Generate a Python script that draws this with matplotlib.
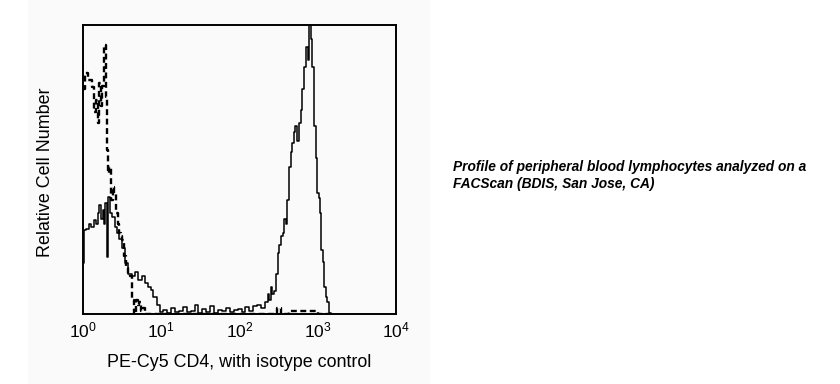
import matplotlib.pyplot as plt
from matplotlib.patches import Rectangle
import numpy as np

plt.rcParams['font.family'] = ['Liberation Sans', 'DejaVu Sans']
plt.rcParams['mathtext.fontset'] = 'custom'
plt.rcParams['mathtext.rm'] = 'Liberation Sans'

# CD4 stained sample, position in log10 decades and relative count
solid_decade = [0.0, 0.026, 0.055, 0.089, 0.12, 0.153, 0.175, 0.196, 0.217, 0.24,
                0.26, 0.28, 0.294, 0.315, 0.336, 0.36, 0.388, 0.42, 0.451, 0.48,
                0.515, 0.558, 0.6, 0.643, 0.686, 0.728, 0.771, 0.814, 0.85, 0.878,
                0.92, 0.962, 1.005,
                1.05, 1.10, 1.15, 1.20, 1.25, 1.30, 1.35, 1.40, 1.45, 1.50,
                1.55, 1.60, 1.65, 1.70, 1.75, 1.80, 1.85, 1.90, 1.95, 2.00,
                2.05, 2.10, 2.15, 2.20, 2.25, 2.30,
                2.347, 2.369, 2.39, 2.41, 2.43, 2.454, 2.475, 2.496, 2.52, 2.54,
                2.56, 2.58, 2.60, 2.624, 2.645, 2.66, 2.68, 2.70, 2.73, 2.752,
                2.77, 2.794, 2.815, 2.837, 2.858, 2.88, 2.90, 2.92, 2.94, 2.965,
                2.986, 3.007, 3.02, 3.037, 3.054, 3.07, 3.093, 3.11, 3.135, 3.156,
                3.18]
solid_count = [17.6, 29, 29.5, 31, 30, 32.5, 31, 35, 37.7, 33,
               36, 31, 38.4, 19.7, 40.5, 35, 33.6, 30, 28, 26,
               23, 17.6, 14, 13, 14.5, 11.8, 13, 10.7, 9.5, 8.3,
               6, 3, 0.7,
               1.5, 0.5, 2.0, 0.8, 1.2, 2.5, 0.6, 1.0, 3.2, 0.5,
               1.8, 0.7, 2.8, 0.4, 1.5, 0.9, 2.2, 0.6, 1.3, 1.9,
               0.8, 2.4, 1.1, 2.6, 3.0, 2.0,
               4, 7, 5, 9.5, 7, 8, 14, 21, 24, 27,
               28, 33, 31, 39.4, 51, 56, 59, 63, 65, 60,
               66, 70.6, 78, 85.5, 92.4, 88, 104, 95, 85.5, 65,
               54, 42, 40, 35, 22, 18, 9.5, 6, 4, 0.5,
               0]

# isotype control
dash_decade = [0.0, 0.047, 0.089, 0.132, 0.155, 0.175, 0.196, 0.217, 0.238, 0.26,
               0.281, 0.294, 0.311, 0.324, 0.345, 0.366, 0.388, 0.409, 0.43, 0.452,
               0.473, 0.494, 0.515, 0.537, 0.558, 0.59, 0.621, 0.643, 0.664, 0.686,
               0.707, 0.728, 0.75, 0.771, 0.814, 1.0, 1.5, 2.0, 2.45, 2.5,
               2.55, 2.62, 2.65, 3.2]
dash_count = [78, 83.4, 81, 78.5, 70, 74, 66, 80, 72, 79,
              93, 75, 56.7, 48.8, 51, 39.4, 44, 42, 35, 31,
              28, 27, 25.6, 20, 16, 14, 13, 5, 0, 5,
              3, 4, 1, 2, 0, 0, 0, 0, 0, 2,
              0, 0, 1, 0]

x_ticks = [1, 10, 100, 1000, 10000]
caption = ("Profile of peripheral blood lymphocytes analyzed on a\n"
           "FACScan (BDIS, San Jose, CA)")

bg = '#fafafa'
fig = plt.figure(figsize=(8.4, 3.84), dpi=100)
fig.patches.append(Rectangle((28 / 840, 0), 402 / 840, 1, transform=fig.transFigure,
                             facecolor=bg, edgecolor='none', zorder=-1))

ax = fig.add_axes([83 / 840, 1 - 314 / 384, 313 / 840, 289 / 384])
ax.set_facecolor(bg)
ax.plot(10 ** np.array(solid_decade), solid_count, color='black', lw=1.1,
        drawstyle='steps-mid')
ax.plot(10 ** np.array(dash_decade), dash_count, color='black', lw=1.7,
        linestyle=(0, (2.5, 1.5)), drawstyle='steps-mid')

ax.set_xscale('log')
ax.set_xlim(1, 10000)
ax.set_ylim(0, 100)
ax.set_xticks(x_ticks)
ax.minorticks_off()
ax.set_yticks([])
ax.tick_params(axis='x', length=0, pad=5, labelsize=12.5)
for s in ax.spines.values():
    s.set_linewidth(1.4)

ax.set_xlabel('PE-Cy5 CD4, with isotype control', fontsize=12.9)
ax.xaxis.set_label_coords(0.5, -0.14)
ax.set_ylabel('Relative Cell Number', fontsize=12.9, va='center')
ax.yaxis.set_label_coords(-0.12, 0.49)

fig.text(453 / 840, 1 - 188 / 384, caption, fontsize=9.9, fontweight='bold',
         style='italic', va='baseline', linespacing=1.3)

fig.savefig('out.png', dpi=100)
